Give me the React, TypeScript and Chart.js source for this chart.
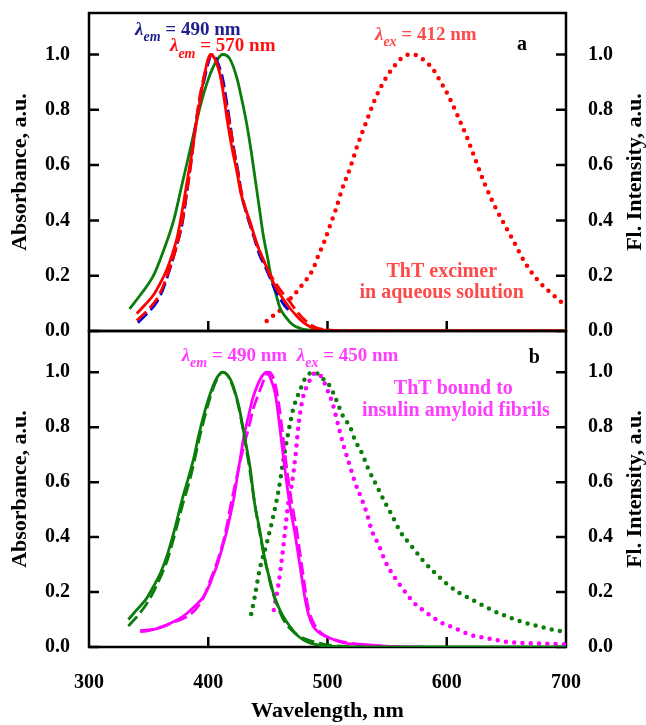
import React, { useEffect, useRef } from 'react';
import { Chart, registerables } from 'chart.js';
Chart.register(...registerables);

type P = [number, number];

const X_MIN = 300;
const X_MAX = 700;
const Y_MAX = 1.15;
const xTickValues = [300, 400, 500, 600, 700];
const yTickValues = [0, 0.2, 0.4, 0.6, 0.8, 1.0];

// ---------- Panel a: ThT excimer in aqueous solution ----------
const aGreenAbs: P[] = [
  [334, 0.08], [343, 0.13], [354, 0.2], [362, 0.285], [371, 0.4], [378, 0.53], [385, 0.66], [390, 0.755],
  [395, 0.84], [400, 0.91], [406, 0.97], [412, 1.0], [418, 0.985], [424, 0.915], [428, 0.84], [432, 0.755],
  [436, 0.65], [439, 0.56], [443, 0.44], [446, 0.35], [450, 0.26], [453, 0.19], [457, 0.13], [460, 0.085],
  [465, 0.05], [471, 0.022], [477, 0.01], [483, 0.004], [495, 0], [600, 0], [700, 0],
];
const aRedExc570: P[] = [
  [340, 0.063], [347, 0.095], [354, 0.13], [360, 0.175], [365, 0.22], [370, 0.28], [374, 0.34], [379, 0.456],
  [383, 0.56], [386, 0.637], [390, 0.75], [393, 0.83], [397, 0.93], [400, 0.985], [402, 1.0], [406, 0.98],
  [410, 0.925], [413, 0.85], [416, 0.76], [420, 0.66], [424, 0.577], [427, 0.505], [431, 0.445], [435, 0.396],
  [439, 0.34], [443, 0.29], [448, 0.24], [452, 0.2], [457, 0.155], [463, 0.115], [468, 0.085], [474, 0.055],
  [480, 0.03], [486, 0.014], [492, 0.006], [500, 0.002], [520, 0], [700, 0],
];
const aRedExc570Dashed: P[] = [
  [340, 0.038], [348, 0.07], [356, 0.11], [362, 0.16], [368, 0.23], [373, 0.3], [378, 0.39], [382, 0.5],
  [386, 0.62], [389, 0.73], [393, 0.85], [397, 0.93], [400, 0.98], [403, 1.0], [407, 0.97], [411, 0.91],
  [414, 0.84], [418, 0.75], [422, 0.64], [425, 0.57], [428, 0.5], [431, 0.445], [435, 0.39], [439, 0.335],
  [443, 0.29], [448, 0.24], [452, 0.205], [457, 0.17], [462, 0.14], [466, 0.12], [471, 0.09], [476, 0.062],
  [481, 0.04], [486, 0.022], [492, 0.01], [500, 0.004], [520, 0], [700, 0],
];
const aBlueExc490: P[] = [
  [341, 0.03], [348, 0.06], [357, 0.106], [362, 0.15], [368, 0.227], [373, 0.3], [378, 0.384], [382, 0.5],
  [386, 0.63], [389, 0.734], [393, 0.84], [397, 0.915], [400, 0.97], [403, 1.0], [407, 0.98], [412, 0.915],
  [415, 0.84], [418, 0.758], [421, 0.67], [425, 0.577], [428, 0.49], [431, 0.44], [435, 0.384], [439, 0.33],
  [443, 0.275], [448, 0.23], [452, 0.19], [456, 0.15], [460, 0.118], [464, 0.092], [469, 0.07],
];
const aRedEm412: P[] = [
  [449, 0.036], [455, 0.058], [462, 0.082], [467, 0.108], [473, 0.136], [478, 0.163], [483, 0.19], [488, 0.225],
  [492, 0.27], [497, 0.32], [502, 0.38], [507, 0.44], [512, 0.51], [519, 0.59], [525, 0.67], [532, 0.75],
  [540, 0.84], [549, 0.915], [557, 0.963], [563, 0.99], [569, 1.0], [576, 0.995], [582, 0.975], [588, 0.95],
  [593, 0.915], [601, 0.854], [610, 0.77], [617, 0.7], [624, 0.62], [632, 0.53], [641, 0.445], [649, 0.38],
  [656, 0.325], [666, 0.245], [677, 0.18], [688, 0.135], [700, 0.09],
];

// ---------- Panel b: ThT bound to insulin amyloid fibrils ----------
const bGreenAbs: P[] = [
  [333, 0.1], [340, 0.135], [348, 0.175], [354, 0.22], [360, 0.27], [366, 0.34], [371, 0.415], [378, 0.535],
  [383, 0.61], [388, 0.69], [392, 0.77], [396, 0.84], [400, 0.9], [404, 0.95], [408, 0.985], [412, 1.0],
  [416, 0.99], [419, 0.97], [422, 0.935], [426, 0.87], [429, 0.8], [432, 0.73], [435, 0.656], [439, 0.52],
  [443, 0.43], [446, 0.353], [449, 0.29], [452, 0.24], [455, 0.19], [459, 0.145], [463, 0.11], [469, 0.072],
  [474, 0.045], [480, 0.025], [487, 0.012], [494, 0.006], [505, 0.002], [520, 0], [700, 0],
];
const bGreenAbsDashed: P[] = [
  [333, 0.076], [340, 0.11], [348, 0.155], [354, 0.2], [360, 0.255], [366, 0.32], [371, 0.395], [378, 0.51],
  [384, 0.6], [388, 0.67], [392, 0.75], [396, 0.82], [400, 0.885], [404, 0.94], [408, 0.98], [412, 1.0],
  [416, 0.99], [420, 0.955], [424, 0.9], [428, 0.82], [432, 0.72], [435, 0.64], [439, 0.52], [443, 0.42],
  [446, 0.35], [450, 0.27], [454, 0.2], [458, 0.15], [463, 0.1], [469, 0.065], [476, 0.04], [484, 0.025],
  [492, 0.015], [500, 0.008], [515, 0.002], [530, 0],
];
const bMagentaExc490: P[] = [
  [343, 0.055], [350, 0.06], [357, 0.067], [362, 0.074], [370, 0.09], [376, 0.104], [382, 0.122], [389, 0.15],
  [396, 0.183], [401, 0.225], [404, 0.26], [407, 0.292], [411, 0.35], [415, 0.413], [418, 0.47], [421, 0.53],
  [424, 0.61], [427, 0.69], [430, 0.77], [434, 0.845], [437, 0.9], [441, 0.95], [445, 0.985], [449, 1.0],
  [452, 0.98], [456, 0.925], [458, 0.87], [460, 0.8], [463, 0.69], [466, 0.59], [469, 0.5], [472, 0.43],
  [475, 0.35], [478, 0.265], [481, 0.18], [484, 0.12], [488, 0.075], [493, 0.052], [499, 0.038], [507, 0.024],
  [516, 0.013], [525, 0.01], [535, 0.008], [545, 0.004], [560, 0.001], [580, 0],
];
const bMagentaExc490Dashed: P[] = [
  [343, 0.06], [352, 0.063], [362, 0.075], [372, 0.092], [382, 0.11], [390, 0.14], [396, 0.18], [401, 0.235],
  [405, 0.28], [409, 0.33], [413, 0.39], [416, 0.45], [419, 0.52], [423, 0.6], [427, 0.68], [431, 0.75],
  [434, 0.8], [438, 0.87], [443, 0.93], [447, 0.975], [451, 1.0], [454, 0.985], [457, 0.94], [460, 0.86],
  [462, 0.79], [465, 0.68], [468, 0.58], [471, 0.5], [474, 0.43], [477, 0.34], [480, 0.25], [483, 0.16],
  [486, 0.11], [490, 0.075], [495, 0.05], [502, 0.032], [512, 0.02], [525, 0.01], [540, 0.005], [560, 0],
];
const bGreenEm: P[] = [
  [436, 0.12], [439, 0.183], [443, 0.28], [449, 0.377], [455, 0.486], [459, 0.571], [463, 0.68], [467, 0.777],
  [471, 0.862], [477, 0.935], [482, 0.983], [489, 1.0], [496, 0.977], [502, 0.95], [508, 0.892], [513, 0.84],
  [519, 0.8], [523, 0.753], [529, 0.704], [534, 0.65], [541, 0.589], [548, 0.528], [554, 0.48], [561, 0.42],
  [570, 0.37], [580, 0.315], [590, 0.27], [600, 0.23], [610, 0.198], [620, 0.175], [630, 0.152], [640, 0.13],
  [650, 0.112], [660, 0.096], [670, 0.083], [680, 0.072], [690, 0.062], [700, 0.054],
];
const bMagentaEm: P[] = [
  [455, 0.135], [459, 0.232], [462, 0.33], [464.5, 0.425], [467, 0.52], [470, 0.59], [473, 0.69], [475.5, 0.8],
  [479, 0.9], [484, 0.96], [489, 0.995], [492, 0.995], [496, 0.975], [500, 0.935], [504, 0.89], [509, 0.807],
  [513, 0.74], [519, 0.656], [523, 0.6], [529, 0.535], [533, 0.486], [537, 0.425], [543, 0.371], [548, 0.316],
  [555, 0.262], [564, 0.207], [573, 0.159], [582, 0.128], [594, 0.092], [607, 0.068], [620, 0.044], [634, 0.032],
  [650, 0.019], [673, 0.013], [700, 0.01],
];

// ---------- styling ----------
const FONT = '"Liberation Serif", "Times New Roman", serif';
const GREEN = 'rgb(10,125,10)';
const RED = '#ff0000';
const BLUE = '#0000dd';
const MAGENTA = '#ff00ff';

type Style = 'solid' | 'dashed' | 'dotted';
function ds(data: P[], color: string, style: Style) {
  return {
    data: data.map(([x, y]) => ({ x, y })),
    borderColor: color,
    backgroundColor: color,
    borderWidth: style === 'dotted' ? 4.5 : 2.8,
    borderDash: style === 'dashed' ? [13, 5] : style === 'dotted' ? [0, 8.3] : [],
    borderCapStyle: style === 'dotted' ? 'round' : 'butt',
    pointRadius: 0,
    cubicInterpolationMode: 'monotone',
    fill: false,
  };
}

type Part = { t: string; it?: boolean; sub?: boolean };
type Label = { parts: Part[]; x: number; y: number; color: string; size: number; align: 'left' | 'center' };

const labelsA: Label[] = [
  { parts: [{ t: 'λ', it: true }, { t: 'em', it: true, sub: true }, { t: ' = 490 nm' }], x: 338.6, y: 1.071, color: '#1e1e8c', size: 19, align: 'left' },
  { parts: [{ t: 'λ', it: true }, { t: 'em', it: true, sub: true }, { t: ' = 570 nm' }], x: 367.9, y: 1.011, color: '#ff1010', size: 19, align: 'left' },
  { parts: [{ t: 'λ', it: true }, { t: 'ex', it: true, sub: true }, { t: ' = 412 nm' }], x: 539.8, y: 1.051, color: '#ff4a4a', size: 19, align: 'left' },
  { parts: [{ t: 'a' }], x: 663, y: 1.015, color: '#000', size: 20, align: 'center' },
  { parts: [{ t: 'ThT excimer' }], x: 595.8, y: 0.197, color: '#ff4a4a', size: 20, align: 'center' },
  { parts: [{ t: 'in aqueous solution' }], x: 595.8, y: 0.118, color: '#ff4a4a', size: 20, align: 'center' },
];
const labelsB: Label[] = [
  { parts: [{ t: 'λ', it: true }, { t: 'em', it: true, sub: true }, { t: ' = 490 nm' }], x: 377.7, y: 1.041, color: '#ff3cff', size: 19, align: 'left' },
  { parts: [{ t: 'λ', it: true }, { t: 'ex', it: true, sub: true }, { t: ' = 450 nm' }], x: 474.2, y: 1.041, color: '#ff3cff', size: 19, align: 'left' },
  { parts: [{ t: 'b' }], x: 673.4, y: 1.034, color: '#000', size: 20, align: 'center' },
  { parts: [{ t: 'ThT bound to' }], x: 605.5, y: 0.922, color: '#ff3cff', size: 20, align: 'center' },
  { parts: [{ t: 'insulin amyloid fibrils' }], x: 607.6, y: 0.84, color: '#ff3cff', size: 20, align: 'center' },
];

function framePlugin() {
  return {
    id: 'frameTicks',
    beforeDatasetsDraw(chart: any) {
      const { ctx, chartArea: a, scales } = chart;
      ctx.save();
      ctx.strokeStyle = '#000';
      ctx.lineWidth = 2.5;
      ctx.strokeRect(a.left, a.top, a.right - a.left, a.bottom - a.top);
      ctx.beginPath();
      for (const v of yTickValues) {
        const y = scales.y.getPixelForValue(v);
        ctx.moveTo(a.left, y); ctx.lineTo(a.left + 10, y);
        ctx.moveTo(a.right, y); ctx.lineTo(a.right - 10, y);
      }
      for (const v of xTickValues) {
        if (v === X_MIN || v === X_MAX) continue;
        const x = scales.x.getPixelForValue(v);
        ctx.moveTo(x, a.bottom); ctx.lineTo(x, a.bottom - 10);
      }
      ctx.stroke();
      ctx.restore();
    },
  };
}

function labelPlugin(labels: Label[]) {
  return {
    id: 'richLabels',
    afterDatasetsDraw(chart: any) {
      const { ctx, scales, chartArea: a } = chart;
      ctx.save();
      ctx.textBaseline = 'alphabetic';
      ctx.textAlign = 'left';
      for (const l of labels) {
        const fontFor = (p: Part) =>
          `${p.it ? 'italic ' : ''}bold ${p.sub ? Math.round(l.size * 0.75) : l.size}px ${FONT}`;
        let total = 0;
        for (const p of l.parts) { ctx.font = fontFor(p); total += ctx.measureText(p.t).width; }
        const px = scales.x.getPixelForValue(l.x);
        const py = scales.y.getPixelForValue(l.y);
        let cx = l.align === 'center' ? px - total / 2 : px;
        ctx.fillStyle = l.color;
        for (const p of l.parts) {
          ctx.font = fontFor(p);
          ctx.fillText(p.t, cx, p.sub ? py + l.size * 0.32 : py);
          cx += ctx.measureText(p.t).width;
        }
      }
      // axis titles (both read bottom-to-top)
      ctx.fillStyle = '#000';
      ctx.font = `bold 22px ${FONT}`;
      ctx.textAlign = 'center';
      const cy = (a.top + a.bottom) / 2;
      ctx.save(); ctx.translate(26, cy); ctx.rotate(-Math.PI / 2); ctx.fillText('Absorbance, a.u.', 0, 0); ctx.restore();
      ctx.save(); ctx.translate(641, cy); ctx.rotate(-Math.PI / 2); ctx.fillText('Fl. Intensity, a.u.', 0, 0); ctx.restore();
      ctx.restore();
    },
  };
}

function yScale(position: 'left' | 'right') {
  return {
    type: 'linear',
    position,
    min: 0,
    max: Y_MAX,
    grid: { display: false },
    border: { display: false },
    afterBuildTicks: (s: any) => { s.ticks = yTickValues.map((v) => ({ value: v })); },
    afterFit: (s: any) => {
      s.width = position === 'left' ? 89 : 80;
      s.paddingTop = 0;
      s.paddingBottom = 0;
    },
    ticks: {
      padding: position === 'left' ? 11 : 14,
      color: '#000',
      font: { family: FONT, size: 20, weight: 'bold' },
      callback: (v: any) => Number(v).toFixed(1),
    },
  };
}

function buildConfig(datasets: any[], labels: Label[], showX: boolean) {
  return {
    type: 'line',
    data: { datasets },
    options: {
      responsive: false,
      maintainAspectRatio: false,
      animation: false,
      events: [],
      layout: { padding: { top: 13, bottom: showX ? 0 : 14, left: 0, right: 0 } },
      plugins: { legend: { display: false }, tooltip: { enabled: false } },
      scales: {
        x: {
          type: 'linear',
          min: X_MIN,
          max: X_MAX,
          display: showX,
          grid: { display: false },
          border: { display: false },
          afterBuildTicks: (s: any) => { s.ticks = xTickValues.map((v) => ({ value: v })); },
          afterFit: (s: any) => {
            if (showX) s.height = 78;
            s.paddingLeft = 0;
            s.paddingRight = 0;
          },
          ticks: {
            padding: 16,
            maxRotation: 0,
            color: '#000',
            font: { family: FONT, size: 20, weight: 'bold' },
            callback: (v: any) => String(v),
          },
          title: {
            display: true,
            text: 'Wavelength, nm',
            color: '#000',
            font: { family: FONT, size: 22, weight: 'bold' },
            padding: { top: 0, bottom: 0 },
          },
        },
        y: yScale('left'),
        y2: yScale('right'),
      },
    },
    plugins: [framePlugin(), labelPlugin(labels)],
  };
}

function Panel({ datasets, labels, showX, top, height }: any) {
  const ref = useRef<HTMLCanvasElement | null>(null);
  useEffect(() => {
    if (!ref.current) return;
    const chart = new Chart(ref.current, buildConfig(datasets, labels, showX) as any);
    return () => chart.destroy();
  }, []);
  return (
    <canvas
      ref={ref}
      width={646}
      height={height}
      style={{ position: 'absolute', left: 0, top, width: 646, height }}
    />
  );
}

export default function App() {
  const dsA = [
    ds(aRedExc570, RED, 'solid'),
    ds(aRedExc570Dashed, RED, 'dashed'),
    ds(aBlueExc490, BLUE, 'dashed'),
    ds(aGreenAbs, GREEN, 'solid'),
    ds(aRedEm412, RED, 'dotted'),
  ];
  const dsB = [
    ds(bGreenAbs, GREEN, 'solid'),
    ds(bGreenAbsDashed, GREEN, 'dashed'),
    ds(bMagentaExc490, MAGENTA, 'solid'),
    ds(bMagentaExc490Dashed, MAGENTA, 'dashed'),
    ds(bMagentaEm, MAGENTA, 'dotted'),
    ds(bGreenEm, GREEN, 'dotted'),
  ];
  return (
    <div style={{ position: 'absolute', left: 0, top: 0, width: 646, height: 725, background: '#fff' }}>
      <Panel datasets={dsA} labels={labelsA} showX={false} top={0} height={345} />
      <Panel datasets={dsB} labels={labelsB} showX={true} top={318} height={407} />
    </div>
  );
}
